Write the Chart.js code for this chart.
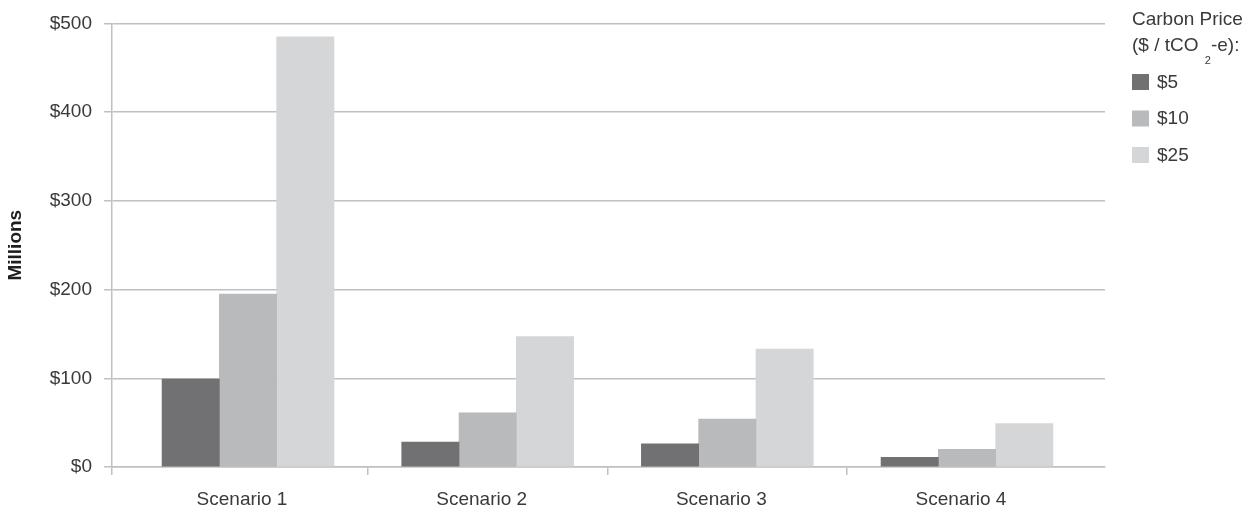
<!DOCTYPE html>
<html>
<head>
<meta charset="utf-8">
<title>Carbon price scenarios</title>
<script src="https://cdn.jsdelivr.net/npm/chart.js@4/dist/chart.umd.min.js"></script>
<style>
  html, body { margin: 0; padding: 0; background: #ffffff; }
  #wrap { width: 1253px; height: 513px; }
</style>
</head>
<body>
<div id="wrap"><canvas id="chart" width="1253" height="513"></canvas></div>
<script>
// Categories and series ($ millions)
const SCENARIOS = ['Scenario 1', 'Scenario 2', 'Scenario 3', 'Scenario 4'];
const PRICE_LABELS = ['$5', '$10', '$25'];
const COST_AT_5 = [99, 28, 26, 11];
const COST_AT_10 = [195, 61, 54, 20];
const COST_AT_25 = [485, 147, 133, 49];
const Y_TICKS = [0, 100, 200, 300, 400, 500];
const AXIS_TITLE = 'Millions';
const LEGEND_TITLE = 'Carbon Price';
const LEGEND_SUBTITLE = ['($ / tCO ', '2', '-e):'];

// Styling
const FONT = '"Liberation Sans", Arial, Helvetica, sans-serif';
const TEXT = '#3a3a3a';
const GRID = '#c0c0c0';
const BAR_COLORS = ['#717173', '#b9babc', '#d5d6d8'];
const X_MIN = -0.5675;
const X_MAX = 3.5758;

const toPoints = vals => vals.map((v, i) => ({ x: i, y: v }));

// Tick values on the category axis: one per scenario (labels) plus the
// boundaries between scenarios and the left edge (tick marks only).
const labelTicks = SCENARIOS.map((_, i) => i);
const boundaryTicks = SCENARIOS.slice(1).map((_, i) => i + 0.5);
const xTickValues = [X_MIN, ...labelTicks, ...boundaryTicks].sort((a, b) => a - b);

// Legend on the right with a subscripted unit line
const priceLegend = {
  id: 'priceLegend',
  afterDraw(chart) {
    const ctx = chart.ctx;
    const left = chart.chartArea.right + 27;
    ctx.save();
    ctx.fillStyle = TEXT;
    ctx.textAlign = 'left';
    ctx.textBaseline = 'alphabetic';
    ctx.font = '19px ' + FONT;
    ctx.fillText(LEGEND_TITLE, left, 25);

    let x = left;
    ctx.fillText(LEGEND_SUBTITLE[0], x, 51);
    x += ctx.measureText(LEGEND_SUBTITLE[0]).width;
    ctx.font = '11px ' + FONT;
    ctx.fillText(LEGEND_SUBTITLE[1], x + 1, 63.5);
    x += 1 + ctx.measureText(LEGEND_SUBTITLE[1]).width;
    ctx.font = '19px ' + FONT;
    ctx.fillText(LEGEND_SUBTITLE[2], x, 51);

    ctx.textBaseline = 'middle';
    chart.data.datasets.forEach((ds, i) => {
      const top = 74 + i * 36.5;
      ctx.fillStyle = ds.backgroundColor;
      ctx.fillRect(left, top, 17, 16);
      ctx.fillStyle = TEXT;
      ctx.fillText(ds.label, left + 25, top + 8.5);
    });
    ctx.restore();
  }
};

const seriesValues = [COST_AT_5, COST_AT_10, COST_AT_25];

new Chart(document.getElementById('chart'), {
  type: 'bar',
  data: {
    datasets: PRICE_LABELS.map((label, i) => ({
      label: label,
      data: toPoints(seriesValues[i]),
      backgroundColor: BAR_COLORS[i],
      borderWidth: 0,
      barThickness: 57.3
    }))
  },
  options: {
    responsive: false,
    animation: false,
    devicePixelRatio: 1,
    layout: { padding: { top: 23, right: 148, bottom: 0, left: 0 } },
    plugins: {
      legend: { display: false },
      tooltip: { enabled: false }
    },
    scales: {
      x: {
        type: 'linear',
        min: X_MIN,
        max: X_MAX,
        bounds: 'data',
        offset: false,
        afterBuildTicks(scale) {
          scale.ticks = xTickValues.map(v => ({ value: v }));
        },
        afterFit(scale) { scale.height = 46; },
        ticks: {
          autoSkip: false,
          maxRotation: 0,
          minRotation: 0,
          padding: 13,
          labelOffset: -6,
          color: TEXT,
          font: { family: FONT, size: 19 },
          callback: v => (Number.isInteger(v) && SCENARIOS[v] !== undefined) ? SCENARIOS[v] : ''
        },
        grid: {
          display: true,
          offset: false,
          drawOnChartArea: false,
          drawTicks: true,
          tickLength: 8,
          lineWidth: 1.5,
          color: c => (c.tick && Number.isInteger(c.tick.value)) ? 'rgba(0,0,0,0)' : GRID
        },
        border: { display: true, color: GRID, width: 1.5 }
      },
      y: {
        min: Y_TICKS[0],
        max: Y_TICKS[Y_TICKS.length - 1],
        afterBuildTicks(scale) {
          scale.ticks = Y_TICKS.map(v => ({ value: v }));
        },
        afterFit(scale) { scale.width = 112; },
        ticks: {
          padding: 12,
          color: TEXT,
          font: { family: FONT, size: 19 },
          callback: v => '$' + v
        },
        grid: {
          color: GRID,
          lineWidth: 1.5,
          drawTicks: true,
          tickLength: 8
        },
        border: { display: true, color: GRID, width: 1.5 },
        title: {
          display: true,
          text: AXIS_TITLE,
          color: '#1e1e1e',
          font: { family: FONT, size: 19, weight: 'bold' },
          padding: { top: 4, bottom: 0 }
        }
      }
    }
  },
  plugins: [priceLegend]
});
</script>
</body>
</html>
